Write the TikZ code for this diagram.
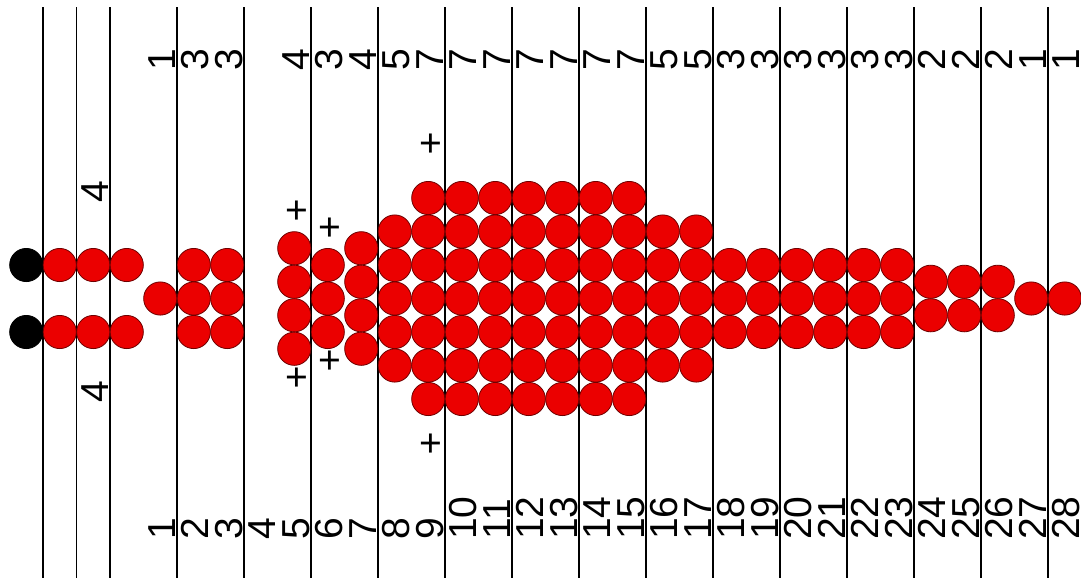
\documentclass[tikz,border=0pt]{standalone}
\usepackage{fontspec}
\setmainfont{Liberation Sans}
\definecolor{beadred}{RGB}{235,0,0}
\definecolor{beadedge}{RGB}{110,0,0}
\tikzset{
  gridline/.style={draw=black, line width=0.9pt},
  bead/.style={circle, draw=beadedge, fill=beadred, line width=0.6pt, minimum size=24.9pt, inner sep=0pt},
  endbead/.style={circle, draw=black, fill=black, line width=0.6pt, minimum size=24.9pt, inner sep=0pt},
  lab/.style={rotate=90, anchor=base west, inner sep=0pt, font=\fontsize{29.25}{30}\selectfont},
  plusmark/.style={inner sep=0pt, font=\fontsize{29.25}{30}\selectfont}
}
\begin{document}
\begin{tikzpicture}[x=0.75pt,y=-0.75pt]
\useasboundingbox (0,0) rectangle (1081,578);
% vertical lines
\foreach \k in {0,1,2,4,6,...,30}
  \draw[gridline] ({43+33.5*\k},7) -- ({43+33.5*\k},578);
% black end beads
\foreach \r [count=\i] in {-1,1}
  \node[endbead] (e\i) at ({126.75+33.5*(-3)},{298.5+33.5*\r}) {};
% red beads
\foreach \c/\rows in {-2/{-1,1},-1/{-1,1},0/{-1,1},
  1/{0},2/{-1,0,1},3/{-1,0,1},
  5/{-1.5,-0.5,0.5,1.5},6/{-1,0,1},7/{-1.5,-0.5,0.5,1.5},8/{-2,-1,0,1,2},
  9/{-3,-2,-1,0,1,2,3},10/{-3,-2,-1,0,1,2,3},11/{-3,-2,-1,0,1,2,3},
  12/{-3,-2,-1,0,1,2,3},13/{-3,-2,-1,0,1,2,3},14/{-3,-2,-1,0,1,2,3},
  15/{-3,-2,-1,0,1,2,3},
  16/{-2,-1,0,1,2},17/{-2,-1,0,1,2},
  18/{-1,0,1},19/{-1,0,1},20/{-1,0,1},21/{-1,0,1},22/{-1,0,1},23/{-1,0,1},
  24/{-0.5,0.5},25/{-0.5,0.5},26/{-0.5,0.5},
  27/{0},28/{0}}
{
  \foreach \r [count=\i] in \rows
    \node[bead] (b\c-\i) at ({126.75+33.5*\c},{298.5+33.5*\r}) {};
}
% top counts
\foreach \c/\t in {1/1,2/3,3/3,5/4,6/3,7/4,8/5,9/7,10/7,11/7,12/7,13/7,14/7,15/7,
  16/5,17/5,18/3,19/3,20/3,21/3,22/3,23/3,24/2,25/2,26/2,27/1,28/1}
  \node[lab] (t\c) at ({126.75+33.5*\c+15},70.5) {\t};
% bottom numbers
\foreach \c in {1,...,28}
  \node[lab] (n\c) at ({126.75+33.5*\c+15},540) {\c};
% side labels
\node[lab] (s1) at (108.5,203) {4};
\node[lab] (s2) at (108.5,402.5) {4};
% plus marks
\node[plusmark] (p1) at (297,212) {+};
\node[plusmark] (p2) at (330,229) {+};
\node[plusmark] (p3) at (330,362) {+};
\node[plusmark] (p4) at (297,379) {+};
\node[plusmark] (p5) at (431,145) {+};
\node[plusmark] (p6) at (431,445) {+};
\end{tikzpicture}
\end{document}
